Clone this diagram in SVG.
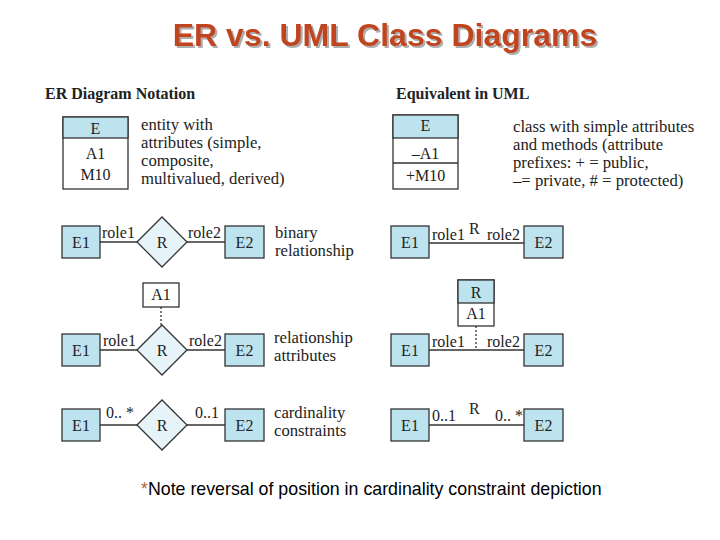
<svg xmlns="http://www.w3.org/2000/svg" width="720" height="540" viewBox="0 0 720 540">
<style>
.t{font-family:"Liberation Serif","Times New Roman",serif;font-size:16px;fill:#222}
.d{font-family:"Liberation Serif","Times New Roman",serif;font-size:16.7px;fill:#222}
.h{font-family:"Liberation Serif","Times New Roman",serif;font-size:16px;font-weight:bold;fill:#222}
.c{text-anchor:middle}
.ent{fill:#bde3ef;stroke:#333;stroke-width:1.3}
.wh{fill:#fff;stroke:#333;stroke-width:1.3}
.dia{fill:#e6f4f9;stroke:#333;stroke-width:1.3}
.ln{stroke:#333;stroke-width:1.3;fill:none}
.dot{stroke:#333;stroke-width:1.3;stroke-dasharray:2 2;fill:none}
</style>
<defs>
<filter id="sh" x="-5%" y="-20%" width="110%" height="150%">
<feDropShadow dx="2" dy="2" stdDeviation="0.6" flood-color="#9a9a9a" flood-opacity="0.8"/>
</filter>
</defs>
<rect width="720" height="540" fill="#fff"/>
<g id="title">
<text x="385" y="46" text-anchor="middle" font-family="Liberation Sans,Arial,sans-serif" font-size="32" font-weight="bold" fill="#c0441c" filter="url(#sh)">ER vs. UML Class Diagrams</text>
</g>
<text class="h" x="45" y="99">ER Diagram Notation</text>
<text class="h" x="396" y="99">Equivalent in UML</text>

<g id="connectors">
<line class="ln" x1="100" y1="242" x2="137" y2="242"/>
<line class="ln" x1="187" y1="242" x2="225" y2="242"/>
<line class="ln" x1="429" y1="243" x2="524" y2="243"/>
<line class="dot" x1="161" y1="307" x2="161" y2="325"/>
<line class="ln" x1="100" y1="350" x2="137" y2="350"/>
<line class="ln" x1="187" y1="350" x2="225" y2="350"/>
<line class="ln" x1="429" y1="350" x2="524" y2="350"/>
<line class="dot" x1="476" y1="326" x2="476" y2="350"/>
<line class="ln" x1="100" y1="425" x2="137" y2="425"/>
<line class="ln" x1="187" y1="425" x2="225" y2="425"/>
<line class="ln" x1="429" y1="425" x2="524" y2="425"/>
<text class="t" x="102" y="238">role1</text>
<text class="t" x="188" y="238">role2</text>
<text class="t" x="432" y="240">role1</text>
<text class="t" x="469" y="234">R</text>
<text class="t" x="487" y="240">role2</text>
<text class="t" x="103" y="346">role1</text>
<text class="t" x="189" y="346">role2</text>
<text class="t" x="432" y="347">role1</text>
<text class="t" x="487" y="347">role2</text>
<text class="t" x="106" y="418">0.. *</text>
<text class="t" x="195" y="418">0..1</text>
<text class="t" x="432" y="421">0..1</text>
<text class="t" x="469" y="414">R</text>
<text class="t" x="495" y="421">0.. *</text>
</g>

<g id="er-entity">
<rect class="wh" x="63" y="117" width="65" height="72"/>
<rect class="ent" x="63" y="117" width="65" height="21"/>
<text class="t c" x="95.5" y="134">E</text>
<text class="t c" x="95.5" y="159">A1</text>
<text class="t c" x="95.5" y="180">M10</text>
</g>
<g id="er-entity-desc">
<text class="d" x="141" y="130">entity with</text>
<text class="d" x="141" y="148">attributes (simple,</text>
<text class="d" x="141" y="166">composite,</text>
<text class="d" x="141" y="184">multivalued, derived)</text>
</g>
<g id="uml-class">
<rect class="wh" x="393" y="115" width="65" height="74"/>
<rect class="ent" x="393" y="115" width="65" height="23"/>
<line class="ln" x1="393" y1="163" x2="458" y2="163"/>
<text class="t c" x="425.5" y="131">E</text>
<text class="t c" x="425.5" y="159">–A1</text>
<text class="t c" x="425.5" y="181">+M10</text>
</g>
<g id="uml-class-desc">
<text class="d" x="513" y="132">class with simple attributes</text>
<text class="d" x="513" y="150">and methods (attribute</text>
<text class="d" x="513" y="168">prefixes:  + =  public,</text>
<text class="d" x="513" y="186">–=  private, # = protected)</text>
</g>

<g id="er-bin-E1"><rect class="ent" x="62" y="226" width="38" height="32"/><text class="t c" x="81" y="248">E1</text></g>
<g id="er-bin-R"><polygon class="dia" points="137,242 162,217 187,242 162,267"/><text class="t c" x="162" y="248">R</text></g>
<g id="er-bin-E2"><rect class="ent" x="225" y="226" width="39" height="32"/><text class="t c" x="244.5" y="248">E2</text></g>
<g id="er-bin-desc"><text class="d" x="275" y="238">binary</text><text class="d" x="275" y="256">relationship</text></g>
<g id="uml-bin-E1"><rect class="ent" x="391" y="226" width="38" height="32"/><text class="t c" x="410" y="248">E1</text></g>
<g id="uml-bin-E2"><rect class="ent" x="524" y="226" width="39" height="32"/><text class="t c" x="543.5" y="248">E2</text></g>

<g id="er-attr-A1"><rect class="wh" x="143" y="283" width="36" height="24"/><text class="t c" x="161" y="300">A1</text></g>
<g id="er-attr-E1"><rect class="ent" x="62" y="334" width="38" height="32"/><text class="t c" x="81" y="356">E1</text></g>
<g id="er-attr-R"><polygon class="dia" points="137,350 162,325 187,350 162,375"/><text class="t c" x="162" y="356">R</text></g>
<g id="er-attr-E2"><rect class="ent" x="225" y="334" width="39" height="32"/><text class="t c" x="244.5" y="356">E2</text></g>
<g id="er-attr-desc"><text class="d" x="274" y="343">relationship</text><text class="d" x="274" y="361">attributes</text></g>
<g id="uml-attr-R"><rect class="wh" x="458" y="280" width="36" height="46"/><rect class="ent" x="458" y="280" width="36" height="23"/><text class="t c" x="476" y="298">R</text><text class="t c" x="476" y="319">A1</text></g>
<g id="uml-attr-E1"><rect class="ent" x="391" y="334" width="38" height="32"/><text class="t c" x="410" y="356">E1</text></g>
<g id="uml-attr-E2"><rect class="ent" x="524" y="334" width="39" height="32"/><text class="t c" x="543.5" y="356">E2</text></g>

<g id="er-card-E1"><rect class="ent" x="62" y="409" width="38" height="32"/><text class="t c" x="81" y="431">E1</text></g>
<g id="er-card-R"><polygon class="dia" points="137,425 162,400 187,425 162,450"/><text class="t c" x="162" y="431">R</text></g>
<g id="er-card-E2"><rect class="ent" x="225" y="409" width="39" height="32"/><text class="t c" x="244.5" y="431">E2</text></g>
<g id="er-card-desc"><text class="d" x="274" y="418">cardinality</text><text class="d" x="274" y="436">constraints</text></g>
<g id="uml-card-E1"><rect class="ent" x="391" y="409" width="38" height="32"/><text class="t c" x="410" y="431">E1</text></g>
<g id="uml-card-E2"><rect class="ent" x="524" y="409" width="39" height="32"/><text class="t c" x="543.5" y="431">E2</text></g>

<g id="note">
<text x="141" y="495" font-family="Liberation Sans,Arial,sans-serif" font-size="17.8" fill="#000"><tspan fill="#b5653d">*</tspan>Note reversal of position in cardinality constraint depiction</text>
</g>
</svg>
